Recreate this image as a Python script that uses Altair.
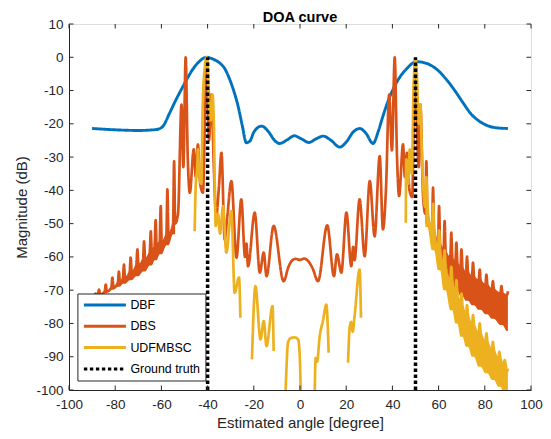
import altair as alt
import pandas as pd

W, H = 462, 366
FONT = "Liberation Sans"
AX = "#262626"

# ---------------- data ----------------
series = ["DBF", "DBS", "UDFMBSC", "Ground truth"]
colors = ["#0072BD", "#D95319", "#EDB120", "#000000"]
dashes = [[1, 0], [1, 0], [1, 0], [3.4, 2.6]]
title_text = ["DOA curve"]

x_ticks = [-100, -80, -60, -40, -20, 0, 20, 40, 60, 80, 100]
y_ticks = [-100, -90, -80, -70, -60, -50, -40, -30, -20, -10, 0, 10]

dbf_x = [-90, -80, -70, -62, -59.3, -56.4, -53.5, -50.6, -46.3, -43.5, -40.5, -37.5, -34.8, -32.5,
         -30.4, -28.5, -26.8, -25, -23.2, -21.5, -20, -16.7, -13.5, -11, -8.8, -5.5, -2.5, 0.5,
         3.9, 7, 10, 13.5, 17.2, 20, 23, 25.8, 28.5, 31.6, 34, 35.9, 38.5, 41.7, 44, 46.1, 48.3,
         50.4, 53, 56.1, 59.5, 63.4, 67, 70.6, 74, 77.8, 81, 85, 90]
dbf_y = [-21.4, -21.8, -22.0, -21.7, -20.7, -16.7, -12.5, -8.7, -3.5, -1.2, 0, -0.6, -1.7, -3.5,
         -6.7, -10.5, -14.7, -20.5, -25.7, -25, -22.5, -20.7, -22.5, -25, -25.9, -24.8, -23.6, -24.5,
         -25.6, -24.5, -23.7, -25, -27, -25.5, -22.5, -21.4, -22.8, -25.9, -22, -17.7, -12.5, -7.7, -5.2, -3.5, -2.0,
         -1.3, -1.5, -2.2, -3.8, -6.7, -10, -13.7, -17, -19.3, -20.5, -21.2, -21.4]

# DBS, left dense band: spike tops, top of the solid fill, bottom of the fill
dbsL_x = [-88.5, -87.0, -84.1, -81.2, -78.4, -76.2, -73.3, -70.4, -67.5, -64.6, -62.5, -60.3, -57.4, -54.5]
dbsL_peak = [-71.0, -69.8, -68.3, -66.2, -64.4, -62.3, -60.2, -57.7, -55.3, -52.3, -48.9, -44.7, -39.7, -31.2]
dbsL_fill = [-72.0, -71.3, -70.4, -69.2, -67.8, -66.4, -64.6, -62.6, -60.8, -58.8, -57.0, -55.5, -53.5, -50.0]
dbsL_bot = [-72.2, -71.8, -70.9, -69.9, -69.0, -68.1, -67.0, -65.8, -64.4, -62.6, -61.0, -59.2, -56.5, -53.2]
# DBS, sparse middle part
dbsM_x = [-52.8, -51.3, -50.5, -49.5, -48.6, -47.7, -46.0, -45.1, -44.2, -43.2, -42.0, -41.2,
          -40.3, -39.4, -38.4, -37.2, -36.3, -35.2, -34.0, -32.6, -31.5, -29.7, -27.5, -25.4, -23.8,
          -23.2, -22.5, -19.6, -17.4, -15.7, -14.5, -11.4, -7.1, -5.0, -3.7, -2.0, 0.0, 1.7, 3.5, 5.5,
          7.8, 11.8, 14.7, 16.0, 17.9, 20.1, 22.2, 23.0, 23.6, 25.8, 28.0, 30.2, 32.3, 34.5, 35.9,
          37.2, 38.6, 39.8, 41.0, 42.0, 42.9, 44.6, 45.4, 46.3, 47.4, 48.6, 49.2, 49.9, 50.8, 51.4,
          52.1, 53.3]
dbsM_y = [-47.0, -14.2, -33.0, 0.0, -30.0, -40.7, -27.7, -36.0, -26.2, -38.0, -40.7, -20.0,
          0.0, -25.0, -11.2, -35.0, -48.0, -40.0, -28.7, -54.7, -48.0, -37.2, -60.2, -42.7, -60.0,
          -56.0, -62.8, -46.7, -64.7, -58.7, -65.8, -50.7, -67.3, -63.0, -61.3, -60.6, -60.9, -60.5, -61.2, -63.5,
          -67.3, -50.5, -65.8, -59.2, -64.7, -46.7, -62.8, -57.0, -61.0, -42.7, -59.8, -37.2, -53.8, -29.7, -51.7,
          -40.0, -11.2, -28.0, 0.0, -30.0, -41.7, -26.2, -36.0, -28.7, -40.0, -42.0, -20.0, -0.5, -25.0, -33.0,
          -14.2, -42.0]
# DBS, right dense band
dbsR_x = [54.7, 57.6, 60.2, 62.6, 65.5, 67.7, 69.9, 72.3, 74.9, 77.8, 80.7, 83.5, 87.2, 90.0]
dbsR_peak = [-31.2, -39.2, -44.7, -49.2, -52.7, -55.7, -57.7, -59.9, -61.7, -63.8, -65.3, -67.3, -68.8, -70.3]
dbsR_fill = [-47.0, -52.0, -56.0, -58.5, -60.5, -62.0, -63.5, -64.8, -66.0, -67.3, -68.5, -69.8, -71.0, -71.5]
dbsR_bot = [-50.0, -56.5, -61.5, -65.0, -68.2, -70.2, -71.8, -73.2, -74.5, -75.9, -77.2, -78.6, -80.5, -82.3]

# UDFMBSC: separate segments (the curve leaves the plot between them)
udf_seg = [1] * 24 + [2] * 7 + [3] * 8 + [4] * 7 + [5] * 7 + [6] * 11
udf_x = [-45.6, -45.2, -44.4, -44.2, -43.6, -42.8, -42.0, -41.2, -40.5, -39.8, -39.2, -38.7, -37.9,
         -37.3, -36.9, -36.5, -35.5, -34.6, -33.3, -31.9, -29.7, -28.3, -26.4, -25.8,
         -20.8, -19.3, -17.1, -15.7, -14.5, -11.9, -11.4,
         -6.4, -6.0, -5.2, -4.0, -2.3, -0.8, -0.1, 0.4,
         6.3, 6.8, 7.4, 8.5, 10.0, 11.4, 12.4,
         20.8, 21.5, 22.2, 22.8, 23.6, 25.8, 26.4,
         45.8, 46.0, 46.8, 47.5, 48.4, 49.2, 50.0, 50.7, 51.3, 52.1, 52.8]
udf_y = [-52.3, -40.0, -31.7, -27.7, -36.0, -38.0, -12.0, -3.0, 0.0, -5.0, -16.0, -19.0, -11.2,
         -20.0, -38.0, -50.7, -47.0, -53.0, -44.7, -58.7, -46.2, -70.8, -66.2, -78.3,
         -90.8, -68.8, -84.8, -79.3, -86.8, -74.8, -88.3,
         -104, -96, -85.8, -84.4, -84.2, -84.8, -90, -104,
         -104, -90.3, -91.5, -84.0, -79.0, -74.3, -88.8,
         -91.8, -81.3, -79.5, -82.5, -78.0, -63.8, -78.3,
         -49.7, -30.7, -38.0, -27.7, -35.0, -8.0, -0.5, -7.0, -20.0, -14.2, -30.0]
# UDFMBSC right dense band (continues segment 6)
udfR_x = [54.7, 57.6, 60.2, 62.6, 65.5, 67.7, 69.9, 72.3, 74.9, 77.8, 80.7, 83.5, 86.3, 88.6, 90.0]
udfR_peak = [-36.0, -44.0, -52.0, -58.0, -63.0, -67.0, -71.0, -74.5, -77.5, -80.0, -83.0, -85.5, -88.5, -91.0, -93.5]
udfR_fill = [-45.0, -52.0, -58.0, -63.0, -67.5, -71.0, -74.5, -77.5, -80.5, -83.0, -85.5, -88.0, -90.5, -92.5, -94.5]
udfR_bot = [-51.0, -58.0, -64.0, -70.0, -76.0, -80.0, -84.0, -87.0, -90.0, -93.0, -95.0, -97.0, -99.0, -101.0, -103.0]

gt_x = [-40, 50]
gt_bottom = [-100, -100]
gt_top = [0, 0]

SPIKE = 0.45  # half width of a spike in the dense bands (style)


def spikes(xs_, peak, fill, bot):
    rows = []
    for x, p, f, b in zip(xs_, peak, fill, bot):
        for dx, v in ((-SPIKE, f), (0.0, p), (SPIKE, f)):
            if -90 <= x + dx <= 90:
                rows.append({"x": x + dx, "y": v, "lo": b})
    return rows


# ---------------- frames ----------------
dbf = pd.DataFrame({"x": dbf_x, "y": dbf_y, "series": "DBF"})

left = [{"x": -90.0, "y": -71.5, "lo": -72.3}] + spikes(dbsL_x, dbsL_peak, dbsL_fill, dbsL_bot)
right = spikes(dbsR_x, dbsR_peak, dbsR_fill, dbsR_bot)
mid = [{"x": x, "y": y} for x, y in zip(dbsM_x, dbsM_y)]
dbs = pd.DataFrame(left + mid + right)
dbs["series"] = "DBS"
dbsL_band = pd.DataFrame(left)
dbsR_band = pd.DataFrame(right)

udf_main = [{"x": x, "y": y, "seg": s} for x, y, s in zip(udf_x, udf_y, udf_seg)]
udf_band_rows = spikes(udfR_x, udfR_peak, udfR_fill, udfR_bot)
udf = pd.DataFrame(udf_main + [dict(r, seg=6) for r in udf_band_rows])
udf["series"] = "UDFMBSC"
udf_band = pd.DataFrame(udf_band_rows)

gt = pd.DataFrame({"x": gt_x, "y": gt_bottom, "y2": gt_top, "series": "Ground truth"})
xt = pd.DataFrame({"v": x_ticks})
yt = pd.DataFrame({"v": y_ticks})
tt = pd.DataFrame({"t": title_text})

xs = alt.Scale(domain=[-100, 100], nice=False, zero=False)
ys = alt.Scale(domain=[-100, 10], nice=False, zero=False)

leg = alt.Legend(title=None, orient="none", legendX=8.4, legendY=269.5, symbolType="M-1,0L1,0",
                 symbolSize=1764, symbolStrokeWidth=3, labelFontSize=12.4, labelFont=FONT,
                 labelColor="#000000", labelOffset=3, padding=5, rowPadding=8.3, clipHeight=13,
                 strokeColor=AX, fillColor="#ffffff")
color = alt.Color("series:N", scale=alt.Scale(domain=series, range=colors), legend=leg)
dash = alt.StrokeDash("series:N", scale=alt.Scale(domain=series, range=dashes), legend=leg)

x_axis = alt.Axis(values=x_ticks, title="Estimated angle [degree]", ticks=False, grid=False,
                  labelExpr="datum.value + ''", domainColor=AX, labelColor=AX, titleColor=AX,
                  labelFont=FONT, titleFont=FONT, labelFontSize=13.5, titleFontSize=15,
                  titleFontWeight="normal", labelPadding=7, labelFlush=False,
                  labelOverlap=False, titleY=37, titleBaseline="alphabetic")
y_axis = alt.Axis(values=y_ticks, title="Magnitude (dB)", ticks=False, grid=False,
                  labelExpr="datum.value + ''", domainColor=AX, labelColor=AX, titleColor=AX,
                  labelFont=FONT, titleFont=FONT, labelFontSize=13.5, titleFontSize=15,
                  titleFontWeight="normal", labelPadding=6, titlePadding=6, labelFlush=False,
                  labelOverlap=False)


def X(f):
    return alt.X(f, scale=xs, axis=x_axis)


def Y(f):
    return alt.Y(f, scale=ys, axis=y_axis)


LW = 2.7
SMOOTH = "monotone"

l_dbf = alt.Chart(dbf).mark_line(strokeWidth=2.9, clip=True, interpolate=SMOOTH).encode(
    x=X("x:Q"), y=Y("y:Q"), color=color, strokeDash=dash, order="x:Q")
a_dbsL = alt.Chart(dbsL_band).mark_area(fill="#D95319", opacity=1, clip=True, interpolate=SMOOTH).encode(
    x=X("x:Q"), y=Y("y:Q"), y2=alt.Y2("lo:Q"))
a_dbsR = alt.Chart(dbsR_band).mark_area(fill="#D95319", opacity=1, clip=True, interpolate=SMOOTH).encode(
    x=X("x:Q"), y=Y("y:Q"), y2=alt.Y2("lo:Q"))
l_dbs = alt.Chart(dbs).mark_line(strokeWidth=LW, clip=True, interpolate=SMOOTH).encode(
    x=X("x:Q"), y=Y("y:Q"), color=color, strokeDash=dash, order="x:Q")
a_udf = alt.Chart(udf_band).mark_area(fill="#EDB120", opacity=1, clip=True, interpolate=SMOOTH).encode(
    x=X("x:Q"), y=Y("y:Q"), y2=alt.Y2("lo:Q"))
l_udf = alt.Chart(udf).mark_line(strokeWidth=LW, clip=True, interpolate=SMOOTH).encode(
    x=X("x:Q"), y=Y("y:Q"), detail="seg:N", color=color, strokeDash=dash, order="x:Q")
r_gt = alt.Chart(gt).mark_rule(strokeWidth=3.5).encode(
    x=X("x:Q"), y=Y("y:Q"), y2="y2:Q", color=color, strokeDash=dash)

TL = 4.5
tick_b = alt.Chart(xt).mark_rule(color=AX, strokeWidth=1).encode(
    x=X("v:Q"), y=alt.value(H), y2=alt.value(H - TL))
tick_t = alt.Chart(xt).mark_rule(color=AX, strokeWidth=1).encode(
    x=X("v:Q"), y=alt.value(0), y2=alt.value(TL))
tick_l = alt.Chart(yt).mark_rule(color=AX, strokeWidth=1).encode(
    y=Y("v:Q"), x=alt.value(0), x2=alt.value(TL))
tick_r = alt.Chart(yt).mark_rule(color=AX, strokeWidth=1).encode(
    y=Y("v:Q"), x=alt.value(W), x2=alt.value(W - TL))

title = alt.Chart(tt).mark_text(font=FONT, fontSize=14.5, fontWeight="bold", color="#000000",
                                align="center", baseline="alphabetic").encode(
    text="t:N", x=alt.value(W / 2), y=alt.value(-2.5))

chart = alt.layer(l_dbf, a_dbsL, a_dbsR, l_dbs, a_udf, l_udf, r_gt,
                  tick_b, tick_t, tick_l, tick_r, title).properties(
    width=W, height=H,
    autosize=alt.AutoSizeParams(type="none"),
    padding={"left": 61, "top": 16, "right": 12, "bottom": 41},
).configure_view(stroke=AX, strokeWidth=1).configure_axis(labelOverlap=False).configure(
    background="#ffffff")

chart.save("out.html", embed_options={"renderer": "svg", "actions": False})
